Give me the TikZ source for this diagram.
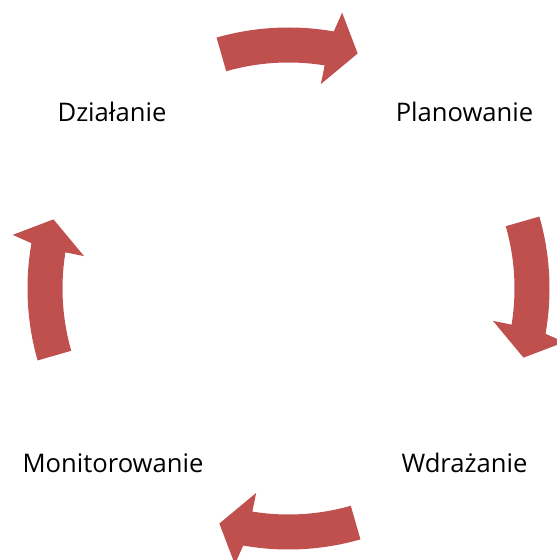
\documentclass[tikz,border=0pt]{standalone}
\usepackage{fontspec}
\setmainfont{Open Sans}
\definecolor{arrowred}{HTML}{C0504D}
\begin{document}
\begin{tikzpicture}[x=1pt,y=1pt,
  lbl/.style={anchor=base,inner sep=0pt,font=\fontsize{25.6}{30}\selectfont},
  cyclearrow/.style={fill=arrowred,draw=none}]
\useasboundingbox (0,0) rectangle (557,560);
\coordinate (c) at (288.5,271.5);
\node[lbl] (dzialanie) at (112,438) {Działanie};
\node[lbl] (planowanie) at (464.5,438) {Planowanie};
\node[lbl] (wdrazanie) at (464.5,87) {Wdrażanie};
\node[lbl] (monitorowanie) at (113,87) {Monitorowanie};
\foreach \r in {0,-90,-180,-270}{
  \begin{scope}[shift={(c)},rotate=\r]
    \fill[cyclearrow] (106:261) arc[start angle=106, end angle=80, radius=261]
      -- (79:281) -- (73.6:245) -- (81:207) -- (80.8:226)
      arc[start angle=80.8, end angle=106, radius=226] -- cycle;
  \end{scope}
}
\end{tikzpicture}
\end{document}
